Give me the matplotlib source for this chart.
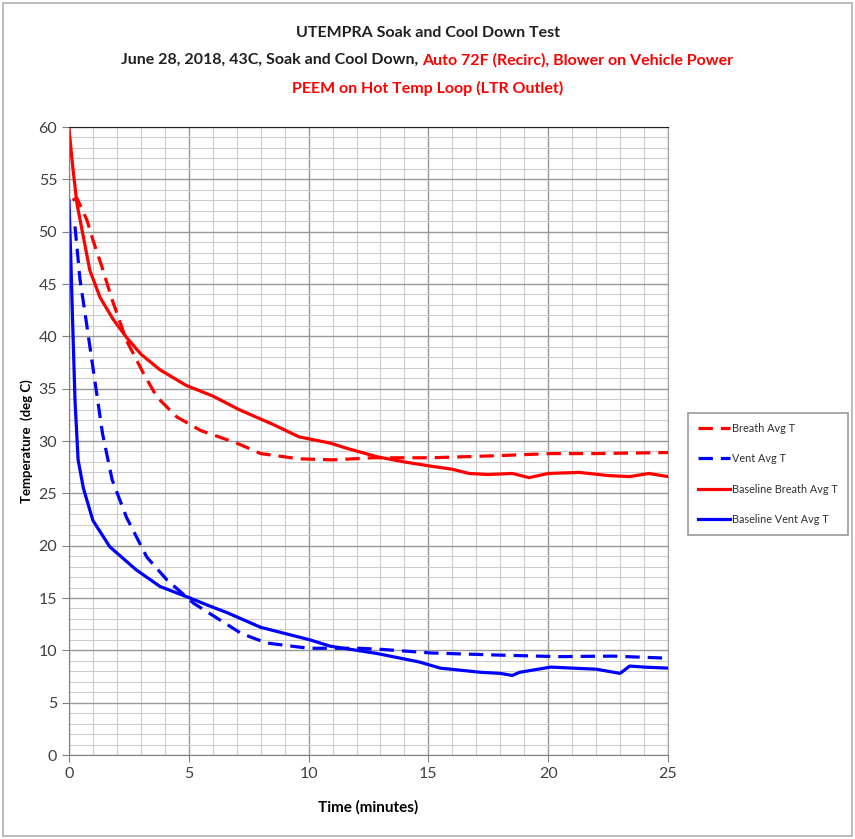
import matplotlib
matplotlib.use("Agg")
import matplotlib.pyplot as plt
from matplotlib.patches import Rectangle
from matplotlib.ticker import MultipleLocator

plt.rcParams['font.family'] = ['Lato', 'DejaVu Sans']

# readings (minutes, deg C)
breath_t = [0.15, 0.33, 0.75, 1.0, 1.38, 1.8, 2.4, 3.1, 3.67, 4.5, 5.5, 7.0, 8.0,
            9.6, 11.0, 12.7, 15.1, 17.9, 20.1, 22.0, 25.0]
breath_T = [53.0, 53.2, 51.1, 49.2, 46.6, 43.5, 39.6, 36.5, 34.2, 32.3, 31.0, 29.8, 28.8,
            28.3, 28.2, 28.4, 28.4, 28.6, 28.8, 28.8, 28.9]

vent_t = [0.25, 0.46, 0.67, 1.0, 1.4, 1.8, 2.4, 3.25, 4.1, 5.2, 6.3, 7.2, 8.25,
          10.0, 12.1, 13.0, 15.1, 17.9, 20.4, 22.7, 25.0]
vent_T = [50.5, 45.4, 42.2, 37.0, 30.7, 26.3, 22.7, 18.9, 16.7, 14.5, 12.9, 11.6, 10.7,
          10.2, 10.2, 10.1, 9.75, 9.55, 9.4, 9.45, 9.25]

base_breath_t = [0.0, 0.17, 0.33, 0.6, 0.87, 1.3, 1.85, 2.4, 3.0, 3.8, 4.9, 6.0, 7.1,
                 8.5, 9.6, 10.9, 11.6, 12.85, 14.0, 15.1, 16.0, 16.7, 17.5, 18.5, 19.2,
                 20.0, 21.3, 22.5, 23.4, 24.2, 25.0]
base_breath_T = [59.8, 55.9, 52.7, 49.5, 46.3, 43.7, 41.6, 39.9, 38.3, 36.8, 35.3, 34.3, 33.0,
                 31.6, 30.4, 29.8, 29.3, 28.5, 28.0, 27.6, 27.3, 26.9, 26.8, 26.9, 26.5,
                 26.9, 27.0, 26.7, 26.6, 26.9, 26.6]

base_vent_t = [0.0, 0.08, 0.15, 0.25, 0.38, 0.6, 0.74, 1.0, 1.7, 2.8, 3.8, 5.05, 5.8,
               6.6, 8.0, 10.06, 10.9, 12.85, 14.6, 15.5, 17.2, 18.0, 18.5, 18.8, 20.1,
               22.0, 23.0, 23.4, 24.0, 25.0]
base_vent_T = [53.0, 47.0, 41.5, 33.9, 28.2, 25.5, 24.4, 22.4, 19.9, 17.7, 16.1, 15.0, 14.3,
               13.6, 12.2, 11.0, 10.4, 9.7, 8.9, 8.3, 7.9, 7.8, 7.6, 7.9, 8.4,
               8.2, 7.8, 8.5, 8.4, 8.3]

fig = plt.figure(figsize=(8.55, 8.39), dpi=100)
ax = fig.add_axes([0.0807, 0.1001, 0.7006, 0.7485])

red = '#ff0000'
blue = '#0000ff'
dash = (4.5, 2.5)
ax.plot(breath_t, breath_T, color=red, lw=2.3, dashes=dash, label='Breath Avg T')
ax.plot(vent_t, vent_T, color=blue, lw=2.3, dashes=dash, label='Vent Avg T')
ax.plot(base_breath_t, base_breath_T, color=red, lw=2.3, label='Baseline Breath Avg T')
ax.plot(base_vent_t, base_vent_T, color=blue, lw=2.3, label='Baseline Vent Avg T')

ax.set_xlim(0, 25)
ax.set_ylim(0, 60)
ax.xaxis.set_major_locator(MultipleLocator(5))
ax.xaxis.set_minor_locator(MultipleLocator(1))
ax.yaxis.set_major_locator(MultipleLocator(5))
ax.yaxis.set_minor_locator(MultipleLocator(1))
ax.grid(which='major', color='#989898', lw=1.0)
ax.grid(which='minor', color='#cccccc', lw=0.8)
ax.set_axisbelow(True)
ax.tick_params(which='major', direction='out', length=5, color='#808080',
               labelsize=11.5, labelcolor='#404040')
ax.tick_params(which='minor', length=0)
ax.spines['top'].set_color('#202020')
ax.spines['right'].set_color('#a0a0a0')
ax.spines['left'].set_color('#808080')
ax.spines['bottom'].set_color('#808080')

ax.set_xlabel('Time (minutes)', fontsize=11, fontweight='bold', labelpad=14)
ax.set_ylabel('Temperature  (deg C)', fontsize=9.5, fontweight='bold', labelpad=4)

fig.text(0.5, 1 - 33 / 839, 'UTEMPRA Soak and Cool Down Test', ha='center', va='center',
         fontsize=11.5, fontweight='bold', color='#202020')
fig.text(0.4936, 1 - 60 / 839, 'June 28, 2018, 43C, Soak and Cool Down, ', ha='right',
         va='center', fontsize=11.5, fontweight='bold', color='#202020')
fig.text(0.4936, 1 - 60 / 839, 'Auto 72F (Recirc), Blower on Vehicle Power', ha='left',
         va='center', fontsize=11.5, fontweight='bold', color=red)
fig.text(0.5, 1 - 88 / 839, 'PEEM on Hot Temp Loop (LTR Outlet)', ha='center', va='center',
         fontsize=11.5, fontweight='bold', color=red)

leg = ax.legend(loc='upper left', bbox_to_anchor=(688 / 855, 1 - 413 / 839),
                bbox_transform=fig.transFigure, fontsize=7.8, frameon=True,
                fancybox=False, edgecolor='#808080', handlelength=3.0,
                handletextpad=0.2, labelspacing=1.8, borderpad=0.9, borderaxespad=0)
leg.get_frame().set_linewidth(1.2)
for txt in leg.get_texts():
    txt.set_color('#303030')

fig.patches.append(Rectangle((0.003, 0.003), 0.994, 0.994, transform=fig.transFigure,
                             fill=False, edgecolor='#b0b0b0', lw=1.2))

fig.savefig('out.png', dpi=100)
